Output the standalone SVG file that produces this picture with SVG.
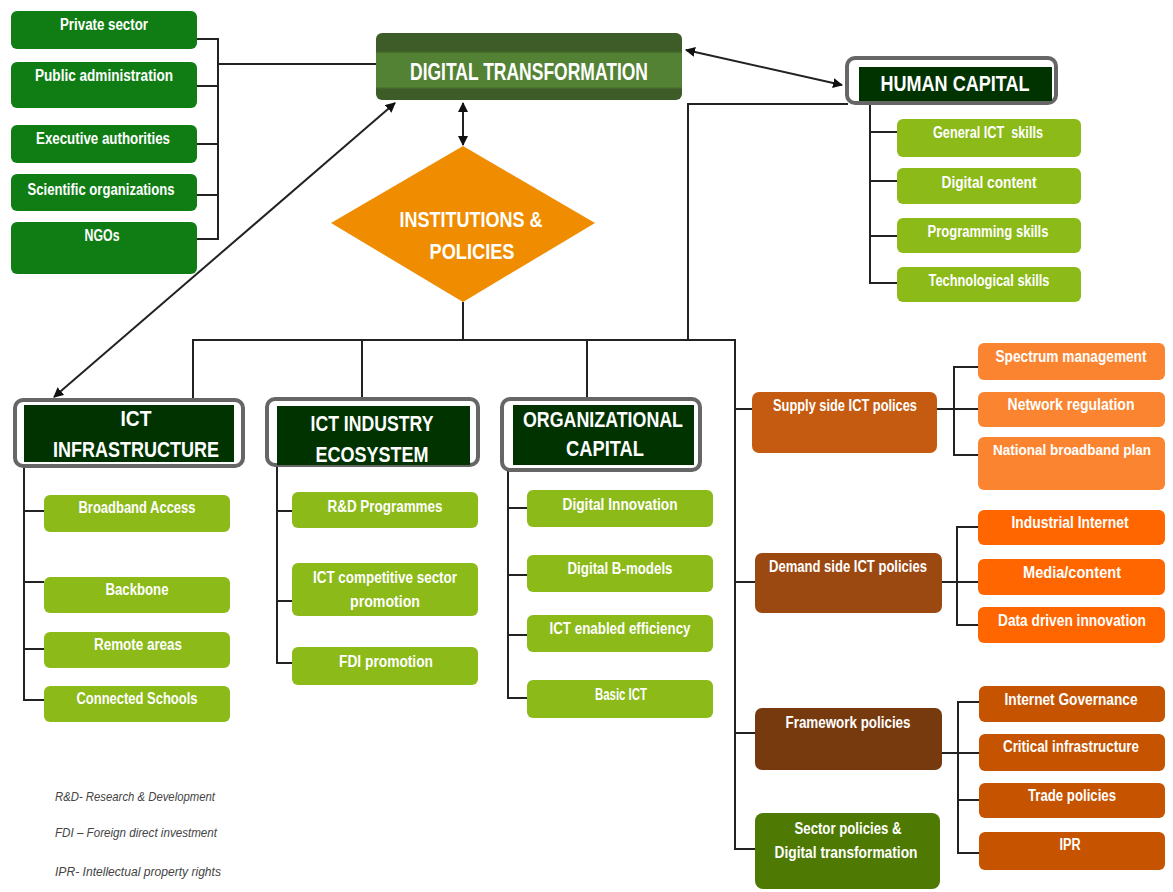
<svg xmlns="http://www.w3.org/2000/svg" width="1173" height="892" viewBox="0 0 1173 892">
<style>
.conn{stroke:#222;stroke-width:2;fill:none}
.t{font-family:"Liberation Sans",Arial,sans-serif;font-weight:bold;fill:#fff;text-anchor:middle}
.s{font-size:16px}
.dg{fill:#0f7d14}
.lg{fill:#8bba19}
.hdr{fill:#fff;stroke:#666;stroke-width:4}
.hin{fill:#003300}
.leg{font-family:"Liberation Sans",Arial,sans-serif;font-style:italic;font-size:13px;fill:#444}
</style>
<defs>
<linearGradient id="dtg" x1="0" y1="0" x2="0" y2="1">
<stop offset="0" stop-color="#3d5c27"/><stop offset="0.27" stop-color="#3d5c27"/>
<stop offset="0.31" stop-color="#548235"/><stop offset="0.8" stop-color="#548235"/>
<stop offset="0.84" stop-color="#3d5c27"/><stop offset="1" stop-color="#3d5c27"/>
</linearGradient>
<marker id="ah" viewBox="0 0 10 10" refX="9" refY="5" markerWidth="5" markerHeight="5" orient="auto-start-reverse">
<path d="M0,0 L10,5 L0,10 z" fill="#111"/>
</marker>
</defs>

<g id="connectors">
<polyline class="conn" points="197,39 218,39 218,239 197,239"/>
<line class="conn" x1="197" y1="86" x2="218" y2="86"/>
<line class="conn" x1="197" y1="144" x2="218" y2="144"/>
<line class="conn" x1="197" y1="195" x2="218" y2="195"/>
<line class="conn" x1="218" y1="64" x2="376" y2="64"/>
<line class="conn" x1="686" y1="50" x2="842" y2="85" marker-start="url(#ah)" marker-end="url(#ah)"/>
<line class="conn" x1="463" y1="103" x2="463" y2="145" marker-start="url(#ah)" marker-end="url(#ah)"/>
<line class="conn" x1="395" y1="103" x2="54" y2="397" marker-start="url(#ah)" marker-end="url(#ah)"/>
<polyline class="conn" points="848,104 688,104 688,340"/>
<polyline class="conn" points="870,105 870,283 897,283"/>
<line class="conn" x1="870" y1="132" x2="897" y2="132"/>
<line class="conn" x1="870" y1="181" x2="897" y2="181"/>
<line class="conn" x1="870" y1="236" x2="897" y2="236"/>
<line class="conn" x1="463" y1="302" x2="463" y2="340"/>
<polyline class="conn" points="193,400 193,340 735,340 735,849 755,849"/>
<line class="conn" x1="362" y1="340" x2="362" y2="399"/>
<line class="conn" x1="587" y1="340" x2="587" y2="399"/>
<polyline class="conn" points="24,466 24,700 44,700"/>
<line class="conn" x1="24" y1="511" x2="44" y2="511"/>
<line class="conn" x1="24" y1="582" x2="44" y2="582"/>
<line class="conn" x1="24" y1="649" x2="44" y2="649"/>
<polyline class="conn" points="277,465 277,663 292,663"/>
<line class="conn" x1="277" y1="511" x2="292" y2="511"/>
<line class="conn" x1="277" y1="601" x2="292" y2="601"/>
<polyline class="conn" points="508,470 508,698 527,698"/>
<line class="conn" x1="508" y1="508" x2="527" y2="508"/>
<line class="conn" x1="508" y1="575" x2="527" y2="575"/>
<line class="conn" x1="508" y1="635" x2="527" y2="635"/>
<line class="conn" x1="735" y1="409" x2="752" y2="409"/>
<line class="conn" x1="937" y1="409" x2="978" y2="409"/>
<polyline class="conn" points="978,367 954,367 954,455 978,455"/>
<line class="conn" x1="735" y1="582" x2="755" y2="582"/>
<line class="conn" x1="942" y1="582" x2="978" y2="582"/>
<polyline class="conn" points="978,527 957,527 957,625 978,625"/>
<line class="conn" x1="735" y1="733" x2="755" y2="733"/>
<line class="conn" x1="942" y1="753" x2="979" y2="753"/>
<polyline class="conn" points="979,702 958,702 958,853 979,853"/>
<line class="conn" x1="958" y1="800" x2="979" y2="800"/>
</g>

<g id="n-private"><rect class="dg" x="11" y="11" width="186" height="38" rx="6"/><text class="t s" x="104" y="30" textLength="88" lengthAdjust="spacingAndGlyphs">Private sector</text></g>
<g id="n-public"><rect class="dg" x="11" y="62" width="186" height="46" rx="6"/><text class="t s" x="104" y="81" textLength="138" lengthAdjust="spacingAndGlyphs">Public administration</text></g>
<g id="n-exec"><rect class="dg" x="11" y="125" width="186" height="38" rx="6"/><text class="t s" x="103" y="144" textLength="134" lengthAdjust="spacingAndGlyphs">Executive authorities</text></g>
<g id="n-sci"><rect class="dg" x="11" y="174" width="186" height="37" rx="6"/><text class="t s" x="101" y="195" textLength="147" lengthAdjust="spacingAndGlyphs">Scientific organizations</text></g>
<g id="n-ngo"><rect class="dg" x="11" y="222" width="186" height="52" rx="6"/><text class="t s" x="102" y="241" textLength="35" lengthAdjust="spacingAndGlyphs">NGOs</text></g>

<g id="n-dt"><rect x="376" y="33" width="306" height="67" rx="6" fill="url(#dtg)"/><text class="t" font-size="24" x="529" y="80" textLength="238" lengthAdjust="spacingAndGlyphs">DIGITAL TRANSFORMATION</text></g>

<g id="n-inst"><polygon points="463,146 595,223 463,302 331,223" fill="#ef8c00"/>
<text class="t" font-size="22" x="471" y="227" textLength="143" lengthAdjust="spacingAndGlyphs">INSTITUTIONS &amp;</text>
<text class="t" font-size="22" x="472" y="259" textLength="85" lengthAdjust="spacingAndGlyphs">POLICIES</text></g>

<g id="n-hc"><rect class="hdr" x="847" y="58" width="209" height="45" rx="8"/><rect class="hin" x="859" y="67" width="193" height="34"/><text class="t" font-size="22" x="955" y="91" textLength="149" lengthAdjust="spacingAndGlyphs">HUMAN CAPITAL</text></g>
<g id="n-gen"><rect class="lg" x="897" y="119" width="184" height="38" rx="6"/><text class="t s" x="988" y="138" textLength="110" lengthAdjust="spacingAndGlyphs" xml:space="preserve">General ICT  skills</text></g>
<g id="n-dc"><rect class="lg" x="897" y="168" width="184" height="36" rx="6"/><text class="t s" x="989" y="188" textLength="95" lengthAdjust="spacingAndGlyphs">Digital content</text></g>
<g id="n-prog"><rect class="lg" x="897" y="218" width="184" height="35" rx="6"/><text class="t s" x="988" y="237" textLength="121" lengthAdjust="spacingAndGlyphs">Programming skills</text></g>
<g id="n-tech"><rect class="lg" x="897" y="267" width="184" height="35" rx="6"/><text class="t s" x="989" y="286" textLength="121" lengthAdjust="spacingAndGlyphs">Technological skills</text></g>

<g id="n-infra"><rect class="hdr" x="15" y="400" width="228" height="66" rx="8"/><rect class="hin" x="24" y="405" width="210" height="57"/>
<text class="t" font-size="22" x="136" y="426" textLength="31" lengthAdjust="spacingAndGlyphs">ICT</text>
<text class="t" font-size="22" x="136" y="457" textLength="166" lengthAdjust="spacingAndGlyphs">INFRASTRUCTURE</text></g>
<g id="n-bb"><rect class="lg" x="44" y="495" width="186" height="37" rx="6"/><text class="t s" x="137" y="513" textLength="117" lengthAdjust="spacingAndGlyphs">Broadband Access</text></g>
<g id="n-bone"><rect class="lg" x="44" y="577" width="186" height="36" rx="6"/><text class="t s" x="137" y="595" textLength="63" lengthAdjust="spacingAndGlyphs">Backbone</text></g>
<g id="n-remote"><rect class="lg" x="44" y="632" width="186" height="36" rx="6"/><text class="t s" x="138" y="650" textLength="88" lengthAdjust="spacingAndGlyphs">Remote areas</text></g>
<g id="n-schools"><rect class="lg" x="44" y="686" width="186" height="36" rx="6"/><text class="t s" x="137" y="704" textLength="121" lengthAdjust="spacingAndGlyphs">Connected Schools</text></g>

<g id="n-industry"><rect class="hdr" x="267" y="399" width="211" height="66" rx="8"/><rect class="hin" x="277" y="406" width="193" height="59"/>
<text class="t" font-size="22" x="372" y="431" textLength="123" lengthAdjust="spacingAndGlyphs">ICT INDUSTRY</text>
<text class="t" font-size="22" x="372" y="462" textLength="113" lengthAdjust="spacingAndGlyphs">ECOSYSTEM</text></g>
<g id="n-rd"><rect class="lg" x="292" y="492" width="186" height="36" rx="6"/><text class="t s" x="385" y="512" textLength="115" lengthAdjust="spacingAndGlyphs">R&amp;D Programmes</text></g>
<g id="n-comp"><rect class="lg" x="292" y="563" width="186" height="53" rx="6"/><text class="t s" x="385" y="583" textLength="144" lengthAdjust="spacingAndGlyphs">ICT  competitive sector</text><text class="t s" x="385" y="607" textLength="70" lengthAdjust="spacingAndGlyphs">promotion</text></g>
<g id="n-fdi"><rect class="lg" x="292" y="647" width="186" height="38" rx="6"/><text class="t s" x="386" y="667" textLength="94" lengthAdjust="spacingAndGlyphs">FDI promotion</text></g>

<g id="n-org"><rect class="hdr" x="502" y="399" width="198" height="71" rx="8"/><rect class="hin" x="513" y="405" width="181" height="60"/>
<text class="t" font-size="22" x="603" y="427" textLength="160" lengthAdjust="spacingAndGlyphs">ORGANIZATIONAL</text>
<text class="t" font-size="22" x="605" y="456" textLength="78" lengthAdjust="spacingAndGlyphs">CAPITAL</text></g>
<g id="n-dinn"><rect class="lg" x="527" y="490" width="186" height="37" rx="6"/><text class="t s" x="620" y="510" textLength="115" lengthAdjust="spacingAndGlyphs">Digital Innovation</text></g>
<g id="n-bmod"><rect class="lg" x="527" y="555" width="186" height="37" rx="6"/><text class="t s" x="620" y="574" textLength="105" lengthAdjust="spacingAndGlyphs">Digital B-models</text></g>
<g id="n-eff"><rect class="lg" x="527" y="615" width="186" height="37" rx="6"/><text class="t s" x="620" y="634" textLength="141" lengthAdjust="spacingAndGlyphs">ICT  enabled efficiency</text></g>
<g id="n-basic"><rect class="lg" x="527" y="680" width="186" height="38" rx="6"/><text class="t s" x="621" y="700" textLength="52" lengthAdjust="spacingAndGlyphs">Basic ICT</text></g>

<g id="n-supply"><rect x="752" y="392" width="185" height="61" rx="7" fill="#c55a11"/><text class="t s" x="845" y="411" textLength="144" lengthAdjust="spacingAndGlyphs">Supply side ICT polices</text></g>
<g id="n-spec"><rect x="978" y="343" width="187" height="37" rx="6" fill="#fb8430"/><text class="t s" x="1071" y="362" textLength="151" lengthAdjust="spacingAndGlyphs">Spectrum management</text></g>
<g id="n-net"><rect x="978" y="392" width="187" height="35" rx="6" fill="#fb8430"/><text class="t s" x="1071" y="410" textLength="127" lengthAdjust="spacingAndGlyphs">Network regulation</text></g>
<g id="n-nbp"><rect x="978" y="437" width="187" height="53" rx="6" fill="#fb8430"/><text class="t" font-size="15" x="1072" y="455" textLength="158" lengthAdjust="spacingAndGlyphs">National broadband plan</text></g>

<g id="n-demand"><rect x="755" y="553" width="187" height="60" rx="7" fill="#9c4811"/><text class="t s" x="848" y="572" textLength="158" lengthAdjust="spacingAndGlyphs">Demand side ICT policies</text></g>
<g id="n-ind"><rect x="978" y="510" width="187" height="35" rx="6" fill="#ff6600"/><text class="t s" x="1070" y="528" textLength="117" lengthAdjust="spacingAndGlyphs">Industrial Internet</text></g>
<g id="n-media"><rect x="978" y="559" width="187" height="36" rx="6" fill="#ff6600"/><text class="t s" x="1072" y="578" textLength="98" lengthAdjust="spacingAndGlyphs">Media/content</text></g>
<g id="n-data"><rect x="978" y="607" width="187" height="36" rx="6" fill="#ff6600"/><text class="t s" x="1072" y="626" textLength="148" lengthAdjust="spacingAndGlyphs">Data driven innovation</text></g>

<g id="n-frame"><rect x="755" y="708" width="187" height="62" rx="7" fill="#773a0e"/><text class="t s" x="848" y="728" textLength="125" lengthAdjust="spacingAndGlyphs">Framework policies</text></g>
<g id="n-igov"><rect x="979" y="686" width="186" height="36" rx="6" fill="#c65300"/><text class="t s" x="1071" y="705" textLength="133" lengthAdjust="spacingAndGlyphs">Internet Governance</text></g>
<g id="n-crit"><rect x="979" y="734" width="186" height="37" rx="6" fill="#c65300"/><text class="t s" x="1071" y="752" textLength="136" lengthAdjust="spacingAndGlyphs">Critical infrastructure</text></g>
<g id="n-trade"><rect x="979" y="783" width="186" height="35" rx="6" fill="#c65300"/><text class="t s" x="1072" y="801" textLength="88" lengthAdjust="spacingAndGlyphs">Trade policies</text></g>
<g id="n-ipr"><rect x="979" y="832" width="186" height="38" rx="6" fill="#c65300"/><text class="t s" x="1070" y="850" textLength="21" lengthAdjust="spacingAndGlyphs">IPR</text></g>

<g id="n-sector"><rect x="755" y="813" width="185" height="76" rx="8" fill="#4e7a04"/><text class="t s" x="848" y="834" textLength="107" lengthAdjust="spacingAndGlyphs">Sector policies &amp;</text><text class="t s" x="846" y="858" textLength="143" lengthAdjust="spacingAndGlyphs">Digital transformation</text></g>

<g id="legend">
<text class="leg" x="55" y="801" textLength="160" lengthAdjust="spacingAndGlyphs">R&amp;D- Research  &amp; Development</text>
<text class="leg" x="55" y="837" textLength="162" lengthAdjust="spacingAndGlyphs">FDI – Foreign direct investment</text>
<text class="leg" x="55" y="876" textLength="166" lengthAdjust="spacingAndGlyphs">IPR- Intellectual  property rights</text>
</g>
</svg>
